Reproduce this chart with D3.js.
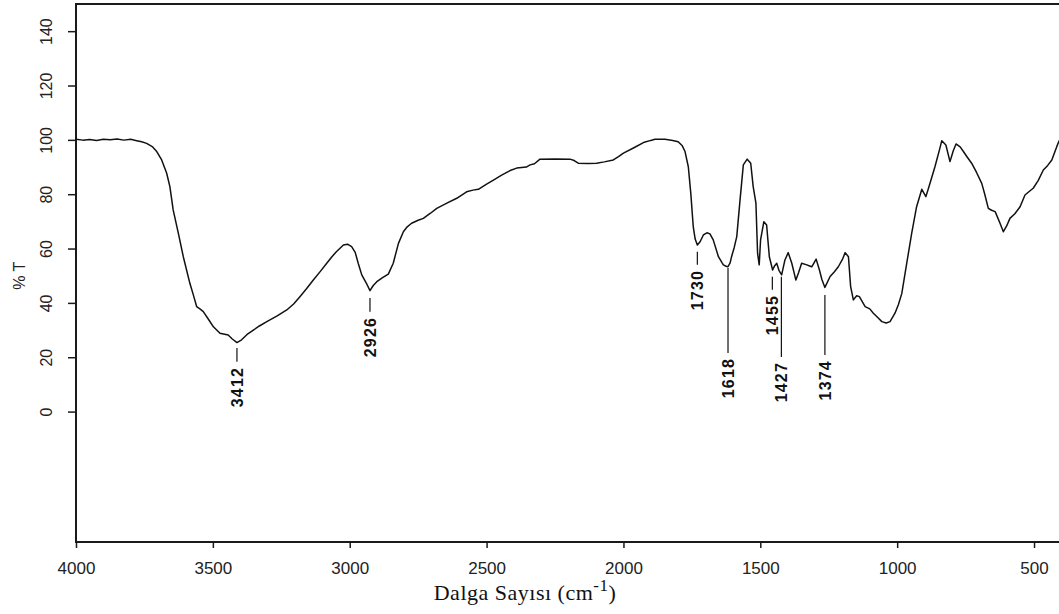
<!DOCTYPE html>
<html>
<head>
<meta charset="utf-8">
<script src="https://cdn.jsdelivr.net/npm/d3@7"></script>
<style>
  html, body { margin: 0; padding: 0; background: #fff; }
  svg { display: block; }
</style>
</head>
<body>
<script>
// FT-IR spectrum: wavenumber (cm-1) vs transmittance (%T)
const wavenumbers = [
  4000, 3975, 3950, 3925, 3900, 3875, 3850, 3825, 3800, 3778, 3760, 3742, 3720, 3705, 3687, 3669,
  3657, 3645, 3626, 3608, 3584, 3570, 3559, 3545, 3535, 3515, 3498, 3474, 3444, 3430, 3412, 3395,
  3375, 3352, 3330, 3303, 3265, 3230, 3205, 3182, 3158, 3133, 3108, 3084, 3065, 3048, 3023, 3008,
  2993, 2980, 2969, 2956, 2940, 2926, 2914, 2901, 2880, 2859, 2841, 2822, 2804, 2790, 2774, 2750,
  2731, 2705, 2682, 2645, 2609, 2573, 2550, 2530, 2500, 2475, 2445, 2414, 2390, 2372, 2355, 2341,
  2325, 2305, 2250, 2195, 2180, 2165, 2130, 2098, 2070, 2037, 2018, 2000, 1960, 1927, 1900, 1885,
  1848, 1820, 1800, 1785, 1775, 1763, 1754, 1745, 1738, 1730, 1720, 1708, 1695, 1684, 1672, 1653,
  1640, 1635, 1625, 1618, 1610, 1605, 1595, 1586, 1574, 1562, 1548, 1535, 1526, 1516, 1510, 1504,
  1499, 1487, 1477, 1467, 1455, 1448, 1440, 1432, 1422, 1410, 1398, 1385, 1370, 1360, 1349, 1330,
  1320, 1312, 1296, 1284, 1275, 1264, 1245, 1230, 1215, 1200, 1190, 1178, 1170, 1160, 1148, 1138,
  1117, 1100, 1087, 1070, 1056, 1040, 1026, 1008, 995, 983, 965, 947, 929, 910, 895, 880,
  862, 845, 837, 822, 807, 795, 785, 770, 758, 745, 728, 710, 691, 680, 667, 655,
  642, 625, 612, 600, 588, 570, 551, 533, 520, 503, 485, 466, 450, 435, 417, 409, 400
];
const transmittance = [
  100.2, 99.9, 100.1, 99.8, 100.2, 100.0, 100.3, 99.9, 100.2, 99.7, 99.3, 98.7, 97.4, 95.7, 92.6, 87.8,
  82.8, 74.2, 65.6, 57.0, 47.2, 42.5, 38.6, 37.6, 36.8, 33.8, 31.2, 28.8, 28.2, 26.8, 25.4, 26.4,
  28.4, 30.0, 31.5, 33.1, 35.2, 37.4, 39.6, 42.3, 45.2, 48.4, 51.5, 54.6, 57.0, 58.9, 61.3, 61.6,
  60.7, 58.6, 54.6, 50.3, 47.4, 44.5, 46.4, 47.8, 49.3, 50.6, 54.6, 61.9, 66.2, 68.0, 69.3, 70.4,
  71.1, 73.0, 74.8, 76.7, 78.5, 80.9, 81.5, 81.8, 83.7, 85.2, 87.0, 88.7, 89.6, 89.8, 90.0, 90.8,
  91.2, 92.9, 93.0, 92.9, 92.4, 91.4, 91.3, 91.4, 91.9, 92.6, 93.8, 95.1, 97.2, 99.0, 99.8, 100.2,
  100.2, 99.8, 99.3, 97.8, 95.7, 90.1, 80.4, 68.1, 63.5, 61.3, 62.5, 65.0, 65.8, 65.4, 63.2, 57.0,
  54.8, 54.0, 53.5, 53.3, 54.8, 57.0, 60.5, 64.4, 77.9, 90.8, 92.9, 91.4, 82.8, 76.7, 58.3, 54.0,
  63.2, 69.9, 68.7, 57.0, 52.1, 53.6, 54.6, 52.0, 50.3, 55.8, 58.5, 54.6, 48.4, 51.2, 54.6, 54.0,
  53.6, 53.3, 56.1, 52.1, 48.6, 45.7, 49.7, 51.4, 53.3, 56.0, 58.5, 57.0, 46.0, 41.1, 42.6, 42.3,
  38.6, 37.8, 36.2, 34.5, 33.1, 32.6, 33.1, 36.2, 39.5, 43.5, 54.6, 65.6, 75.4, 81.8, 79.1, 84.0,
  90.1, 96.5, 99.7, 98.1, 92.0, 96.0, 98.5, 97.4, 95.7, 93.8, 91.4, 88.0, 84.0, 80.0, 74.8, 74.1,
  73.6, 69.5, 66.2, 68.3, 71.1, 72.8, 75.4, 79.7, 80.8, 82.2, 85.0, 88.9, 90.6, 92.6, 97.5, 99.5, 100.6
];

// Axis ticks
const xTicks = [4000, 3500, 3000, 2500, 2000, 1500, 1000, 500];
const yTicks = [0, 20, 40, 60, 80, 100, 120, 140];

// Band annotations: label, where the leader is drawn (cm-1), leader span in %T
const peakLabels = ["3412", "2926", "1730", "1618", "1455", "1427", "1374"];
const peakPositions = [3412, 2926, 1730, 1618, 1456, 1423, 1264];
const leaderTop = [23.4, 41.8, 58.8, 52.8, 49.6, 49.6, 42.9];
const leaderBottom = [18.3, 36.7, 54.0, 21.6, 44.8, 20.1, 20.8];

const W = 1059, H = 614;
const svg = d3.select("body").append("svg").attr("width", W).attr("height", H);

const x = d3.scaleLinear().domain([4000, 400]).range([76, 1061.4]);
const y = d3.scaleLinear().domain([-48, 150]).range([542, 4]);

const sans = "'Liberation Sans', Arial, sans-serif";
const serif = "'Liberation Serif', 'Times New Roman', serif";

// Frame
svg.append("rect")
  .attr("x", x(4000)).attr("y", y(150))
  .attr("width", x(400) - x(4000)).attr("height", y(-48) - y(150))
  .attr("fill", "none").attr("stroke", "#1a1a1a").attr("stroke-width", 2);

// Bottom axis
const gx = svg.append("g")
  .attr("transform", `translate(0,${y(-48)})`)
  .call(d3.axisBottom(x).tickValues(xTicks).tickSize(6).tickPadding(14).tickFormat(d3.format("d")));
gx.select(".domain").remove();
gx.selectAll(".tick line").attr("stroke", "#1a1a1a").attr("stroke-width", 1.5);
gx.selectAll(".tick text")
  .attr("fill", "#222").attr("font-family", sans).attr("font-size", 17);

// Left axis with rotated labels
const gy = svg.append("g")
  .attr("transform", `translate(${x(4000)},0)`)
  .call(d3.axisLeft(y).tickValues(yTicks).tickSize(8).tickFormat(d3.format("d")));
gy.select(".domain").remove();
gy.selectAll(".tick line").attr("stroke", "#1a1a1a").attr("stroke-width", 1.5);
gy.selectAll(".tick text")
  .attr("fill", "#222").attr("font-family", sans).attr("font-size", 16)
  .attr("transform", "rotate(-90)")
  .attr("text-anchor", "middle")
  .attr("x", 0).attr("y", -24).attr("dy", 0);

// Axis titles
svg.append("text")
  .attr("transform", `translate(25,${y(50)}) rotate(-90)`)
  .attr("text-anchor", "middle")
  .attr("font-family", sans).attr("font-size", 16).attr("fill", "#222")
  .text("% T");

const xt = svg.append("text")
  .attr("x", 525).attr("y", 600)
  .attr("text-anchor", "middle")
  .attr("font-family", serif).attr("font-size", 22).attr("fill", "#111")
  .attr("letter-spacing", "0.5px");
xt.append("tspan").text("Dalga Sayısı (cm");
xt.append("tspan").attr("dy", -9).attr("font-size", 17).text("-1");
xt.append("tspan").attr("dy", 9).text(")");

// Spectrum trace
const pts = wavenumbers.map((w, i) => [w, transmittance[i]]);
svg.append("path")
  .datum(pts)
  .attr("fill", "none")
  .attr("stroke", "#111")
  .attr("stroke-width", 1.5)
  .attr("stroke-linejoin", "round")
  .attr("d", d3.line().x(d => x(d[0])).y(d => y(d[1])));

// Band leaders and labels
const peaks = svg.append("g");
peakLabels.forEach((lab, i) => {
  const px = x(peakPositions[i]);
  peaks.append("line")
    .attr("x1", px).attr("x2", px)
    .attr("y1", y(leaderTop[i])).attr("y2", y(leaderBottom[i]))
    .attr("stroke", "#111").attr("stroke-width", 1.2);
  peaks.append("text")
    .attr("transform", `translate(${px},${y(leaderBottom[i]) + 5}) rotate(-90)`)
    .attr("text-anchor", "end")
    .attr("dy", "0.36em")
    .attr("font-family", "'Liberation Sans Narrow', 'Liberation Sans', Arial, sans-serif")
    .attr("font-weight", "bold")
    .attr("font-size", 16)
    .attr("letter-spacing", "1.2px")
    .attr("fill", "#111")
    .text(lab);
});
</script>
</body>
</html>
